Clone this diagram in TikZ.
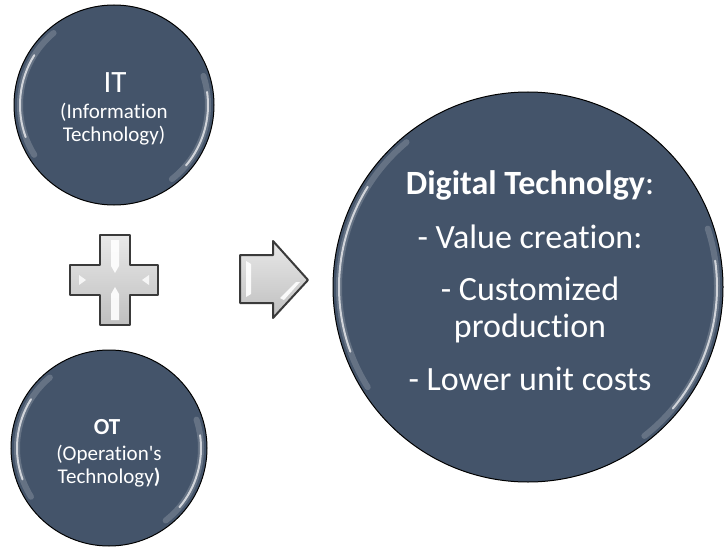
\documentclass[tikz,border=0pt]{standalone}
\usepackage{fontspec}
\setmainfont{Carlito}[Ligatures={TeXOff,NoCommon}]
\usepackage{tikz}
\usetikzlibrary{positioning}
\definecolor{slate}{HTML}{44546A}
\definecolor{rim}{HTML}{3A3A3A}
\tikzset{bubble/.style={circle,draw=black,line width=1pt,fill=slate,minimum size=#1,inner sep=0pt},
  gloss/.style={white,line cap=round,line width=#1},
  txt/.style={white,anchor=base,inner sep=0pt,align=center},
  bevel/.style={draw=rim,line width=2pt,line join=round,top color=gray!18,bottom color=gray!50}}

\begin{document}
\begin{tikzpicture}[x=1pt,y=1pt]
  \useasboundingbox (0,0) rectangle (725,550);
  % 三个圆
  \node[bubble=200] (it) at (114,445) {};
  \node[bubble=196] (ot) at (109,102) {};
  \node[bubble=390] (dt) at (528,263) {};
  \foreach \c/\r in {it/100,ot/98,dt/195}{
    \draw[gloss=6pt,opacity=0.18] ([shift={(130:\r-6)}]\c.center) arc[start angle=130,end angle=212,radius=\r-6];
    \draw[gloss=2pt,opacity=0.7] ([shift={(148:\r-6)}]\c.center) arc[start angle=148,end angle=200,radius=\r-6];
    \draw[gloss=6pt,opacity=0.18] ([shift={(-52:\r-6)}]\c.center) arc[start angle=-52,end angle=18,radius=\r-6];
    \draw[gloss=2pt,opacity=0.7] ([shift={(-40:\r-6)}]\c.center) arc[start angle=-40,end angle=8,radius=\r-6];
  }
  % 文字
  \node[txt,font=\fontsize{31}{36}\selectfont] (itname) at (115,457) {IT};
  \node[txt,font=\fontsize{21}{24}\selectfont] (itlong) at (114,431) {(Information};
  \node[txt,font=\fontsize{21}{24}\selectfont] (itlong2) at (114,408) {Technology)};
  \node[txt,font=\fontsize{23}{26}\selectfont\bfseries] (otname) at (107,116) {OT};
  \node[txt,font=\fontsize{21}{24}\selectfont] (otlong) at (109,90) {(Operation's};
  \node[txt,font=\fontsize{21}{24}\selectfont] (otlong2) at (109,67) {Technology\textbf{)}};
  \node[txt,font=\fontsize{34}{40}\selectfont] (dttitle) at (530,356) {\textbf{Digital Technolgy}:};
  \node[txt,font=\fontsize{34}{40}\selectfont] (dtvalue) at (530,302) {- Value creation:};
  \node[txt,font=\fontsize{34}{40}\selectfont] (dtcustom) at (530,250) {- Customized};
  \node[txt,font=\fontsize{34}{40}\selectfont] (dtprod) at (530,213) {production};
  \node[txt,font=\fontsize{34}{40}\selectfont] (dtcost) at (530,160) {- Lower unit costs};
  % 加号
  \draw[bevel] (100,315)--(130,315)--(130,285)--(158,285)--(158,255)--(130,255)--(130,225)--(100,225)--(100,255)--(70,255)--(70,285)--(100,285)--cycle;
  \fill[white,opacity=0.9] (111,310)--(119,310)--(119,284)--(115,277)--(111,284)--cycle;
  \fill[white,opacity=0.9] (111,230)--(119,230)--(119,256)--(115,263)--(111,256)--cycle;
  \fill[white,opacity=0.8] (79,265)--(79,275)--(86,270)--cycle;
  \fill[white,opacity=0.8] (149,265)--(149,275)--(142,270)--cycle;
  % 箭头
  \draw[bevel] (240,247)--(273,247)--(273,232)--(308,270)--(273,309)--(273,295)--(240,295)--cycle;
  \fill[white,opacity=0.9] (246,289)--(251,286)--(251,256)--(246,253)--cycle;
  \fill[white,opacity=0.9] (296,268)--(300,268)--(284,250)--(280,252)--cycle;
\end{tikzpicture}
\end{document}
